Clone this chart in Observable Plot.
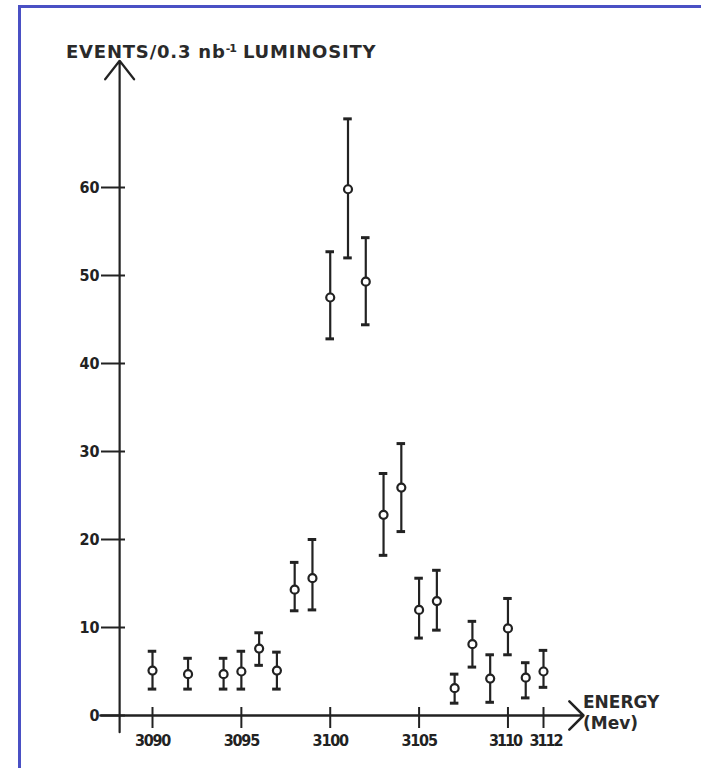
<!DOCTYPE html>
<html><head><meta charset="utf-8">
<script src="https://cdn.jsdelivr.net/npm/d3@7"></script>
<script src="https://cdn.jsdelivr.net/npm/@observablehq/plot@0.6"></script>
<style>
body{margin:0;background:#fff;}
#wrap{position:relative;width:701px;height:768px;overflow:hidden;font-family:"DejaVu Sans",sans-serif;color:#2a2a2a;}
#frame{position:absolute;left:18px;top:5px;width:900px;height:900px;border-left:3px solid #4a50c4;border-top:3px solid #4a50c4;}
#chart{position:absolute;left:0;top:0;}
#title{position:absolute;left:66px;top:41px;font-size:18px;font-weight:bold;letter-spacing:0.8px;white-space:nowrap;}
#title sup{font-size:11px;vertical-align:6px;letter-spacing:-1px;}
#xlabel{position:absolute;left:583px;top:692px;font-size:17px;font-weight:bold;line-height:21px;white-space:nowrap;}
#chart text{font-family:"DejaVu Sans Condensed","DejaVu Sans",sans-serif;font-weight:bold;}
</style>
</head><body>
<div id="wrap">
<div id="frame"></div>
<div id="chart"></div>
<div id="title">EVENTS/0.3 nb<sup>-1</sup> LUMINOSITY</div>
<div id="xlabel">ENERGY<br>(Mev)</div>
</div>
<script>
const energy = [3090,3092,3094,3095,3096,3097,3098,3099,3100,3101,3102,3103,3104,3105,3106,3107,3108,3109,3110,3111,3112];
const events = [5.1,4.7,4.7,5.0,7.6,5.1,14.3,15.6,47.5,59.8,49.3,22.8,25.9,12.0,13.0,3.1,8.1,4.2,9.9,4.3,5.0];
const errLow = [3.0,3.0,3.0,3.0,5.7,3.0,11.9,12.0,42.8,52.0,44.4,18.2,20.9,8.8,9.7,1.4,5.5,1.5,6.9,2.0,3.2];
const errHigh = [7.3,6.5,6.5,7.3,9.4,7.2,17.4,20.0,52.7,67.8,54.3,27.5,30.9,15.6,16.5,4.7,10.7,6.9,13.3,6.0,7.4];
const xTicks = [3090,3095,3100,3105,3110,3112];
const yTicks = [0,10,20,30,40,50,60];

const data = energy.map((e,i)=>({e, v:events[i], lo:errLow[i], hi:errHigh[i]}));
const ink = "#222";
const capHalf = 0.24;

const chart = Plot.plot({
  width: 701, height: 768,
  marginLeft: 125, marginBottom: 61, marginTop: 0, marginRight: 0,
  style: {background: "transparent", fontSize: "16px", color: ink},
  x: {domain: [3090, 3112], range: [152, 543]},
  y: {domain: [0, 60], range: [715, 187]},
  marks: [
    Plot.axisY(yTicks, {anchor: "left", tickSize: 24, tickPadding: 2, strokeWidth: 2, stroke: ink, fill: ink, fontSize: 16, label: null}),
    Plot.axisX(xTicks, {anchor: "bottom", tickSize: 21, tickPadding: 6, strokeWidth: 2, stroke: ink, fill: ink, fontSize: 16, label: null,
      tickFormat: d => String(d)}),
    // axes with arrow heads
    Plot.arrow([{x1: 3088.15, y1: -1.9, x2: 3088.15, y2: 74.4}], {x1: "x1", y1: "y1", x2: "x2", y2: "y2", stroke: ink, strokeWidth: 2.2, headAngle: 76, headLength: 16}),
    Plot.arrow([{x1: 3087.07, y1: 0, x2: 3114.25, y2: 0}], {x1: "x1", y1: "y1", x2: "x2", y2: "y2", stroke: ink, strokeWidth: 2.5, headAngle: 90, headLength: 12}),
    // error bars
    Plot.ruleX(data, {x: "e", y1: "lo", y2: "hi", stroke: ink, strokeWidth: 2.2}),
    Plot.ruleY(data, {y: "hi", x1: d => d.e - capHalf, x2: d => d.e + capHalf, stroke: ink, strokeWidth: 3}),
    Plot.ruleY(data, {y: "lo", x1: d => d.e - capHalf, x2: d => d.e + capHalf, stroke: ink, strokeWidth: 3}),
    Plot.dot(data, {x: "e", y: "v", r: 4, fill: "white", stroke: ink, strokeWidth: 2.2})
  ]
});
chart.querySelectorAll("g[aria-label='x-axis tick label'] text").forEach(t => {
  t.setAttribute("letter-spacing", "-1.2");
  if (t.textContent === "3110") { t.setAttribute("letter-spacing", "-2"); t.setAttribute("dx", "-3"); }
  if (t.textContent === "3112") { t.setAttribute("letter-spacing", "-2"); t.setAttribute("dx", "2"); }
});
document.getElementById("chart").appendChild(chart);
</script>
</body></html>
